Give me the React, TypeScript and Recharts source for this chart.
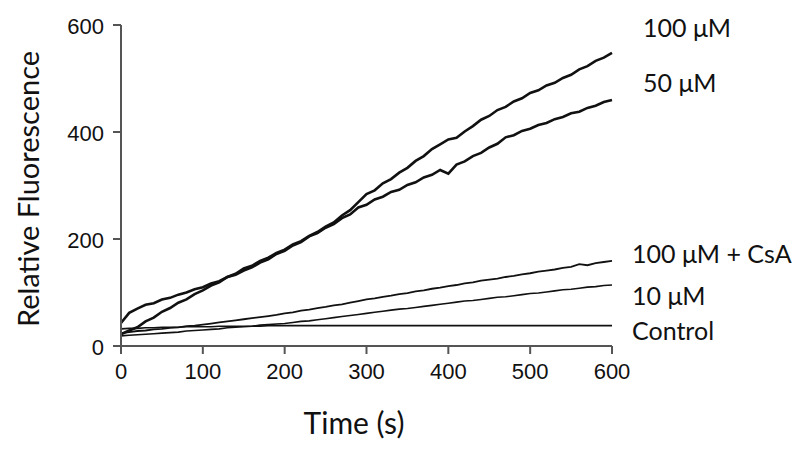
import { Line, LineChart, XAxis, YAxis } from "recharts";

const times = [
  0, 10, 20, 30, 40, 50, 60, 70, 80, 90, 100, 110, 120, 130, 140, 150, 160, 170, 180, 190, 200,
  210, 220, 230, 240, 250, 260, 270, 280, 290, 300, 310, 320, 330, 340, 350, 360, 370, 380, 390,
  400, 410, 420, 430, 440, 450, 460, 470, 480, 490, 500, 510, 520, 530, 540, 550, 560, 570, 580,
  590, 600
];

const uM100 = [
  22, 29, 35, 46, 53, 64, 71, 81, 87, 97, 104, 113, 119, 129, 135, 145, 150, 159, 165, 174, 180,
  190, 196, 206, 213, 223, 231, 244, 254, 269, 284, 291, 304, 312, 324, 333, 346, 355, 368, 377,
  386, 389, 401, 411, 423, 430, 441, 447, 457, 463, 473, 478, 487, 492, 501, 507, 517, 523, 533,
  539, 548
];

const uM50 = [
  43, 62, 70, 77, 80, 87, 90, 96, 100, 106, 110, 117, 121, 129, 133, 141, 147, 156, 162, 172, 178,
  188, 194, 205, 211, 221, 228, 239, 246, 259, 264, 274, 279, 288, 292, 301, 306, 315, 320, 329,
  322, 339, 345, 355, 361, 371, 378, 390, 394, 402, 406, 413, 417, 424, 428, 435, 438, 445, 449,
  456, 460
];

const uM100CsA = [
  24, 26, 28, 29, 31, 32, 34, 35, 37, 38, 40, 42, 44, 46, 48, 50, 52, 54, 56, 58, 61, 63, 66, 68,
  71, 73, 76, 78, 81, 84, 87, 89, 92, 94, 97, 99, 102, 104, 107, 109, 112, 114, 117, 119, 122,
  124, 126, 129, 131, 134, 136, 139, 141, 143, 146, 148, 153, 151, 155, 157, 159
];

const uM10 = [
  19, 20, 21, 22, 23, 24, 25, 26, 28, 29, 30, 31, 32, 34, 35, 36, 37, 39, 40, 41, 42, 44, 46, 47,
  49, 51, 53, 55, 57, 59, 61, 63, 65, 67, 69, 70, 72, 74, 76, 78, 80, 82, 84, 85, 87, 89, 91, 92,
  94, 96, 98, 99, 101, 103, 105, 106, 108, 110, 111, 113, 114
];

const control = [
  32, 33, 33, 34, 34, 35, 35, 35, 36, 36, 36, 36, 37, 37, 37, 37, 37, 37, 38, 38, 38, 38, 38, 38,
  38, 38, 38, 38, 38, 38, 38, 38, 38, 38, 38, 38, 38, 38, 38, 38, 38, 38, 38, 38, 38, 38, 38, 38,
  38, 38, 38, 38, 38, 38, 38, 38, 38, 38, 38, 38, 38
];

const xTicks = [0, 100, 200, 300, 400, 500, 600];
const yTicks = [0, 200, 400, 600];

const seriesLabels = [
  { text: "100 μM", left: 643, top: 27 },
  { text: "50 μM", left: 643, top: 82 },
  { text: "100 μM + CsA", left: 632, top: 253 },
  { text: "10 μM", left: 632, top: 295 },
  { text: "Control", left: 632, top: 330 }
];

const rows = times.map((t, i) => ({
  t,
  uM100: uM100[i],
  uM50: uM50[i],
  uM100CsA: uM100CsA[i],
  uM10: uM10[i],
  control: control[i]
}));

const INK = "#111";
const AXIS = "#555";
const LABEL_FONT = "Lato, 'Open Sans', sans-serif";
const TICK_FONT = "'Liberation Sans', Arial, sans-serif";

type TickProps = { x?: number; y?: number; payload?: { value: number } };

function XTick({ x = 0, y = 0, payload }: TickProps) {
  return (
    <text x={x} y={y + 25} textAnchor="middle" fontSize={22} fontFamily={TICK_FONT} fill={INK}>
      {payload?.value}
    </text>
  );
}

function YTick({ x = 0, y = 0, payload }: TickProps) {
  return (
    <text x={x} y={y + 8.5} textAnchor="end" fontSize={22} fontFamily={TICK_FONT} fill={INK}>
      {payload?.value}
    </text>
  );
}

export default function App() {
  return (
    <div style={{ position: "absolute", left: 0, top: 0, width: 800, height: 454, background: "#fff" }}>
      <LineChart
        width={800}
        height={454}
        data={rows}
        margin={{ top: 25, right: 188, bottom: 48, left: 0 }}
      >
        <XAxis
          dataKey="t"
          type="number"
          domain={[0, 600]}
          ticks={xTicks}
          height={60}
          tickSize={8}
          tickMargin={0}
          tick={<XTick />}
          stroke={AXIS}
          strokeWidth={2}
        />
        <YAxis
          type="number"
          domain={[0, 600]}
          ticks={yTicks}
          width={121}
          tickSize={8}
          tickMargin={9}
          tick={<YTick />}
          stroke={AXIS}
          strokeWidth={2}
        />
        <Line dataKey="control" stroke={INK} strokeWidth={1.6} dot={false} isAnimationActive={false} />
        <Line dataKey="uM10" stroke={INK} strokeWidth={1.6} dot={false} isAnimationActive={false} />
        <Line dataKey="uM100CsA" stroke={INK} strokeWidth={1.8} dot={false} isAnimationActive={false} />
        <Line dataKey="uM50" stroke={INK} strokeWidth={2.6} dot={false} isAnimationActive={false} />
        <Line dataKey="uM100" stroke={INK} strokeWidth={2.6} dot={false} isAnimationActive={false} />
      </LineChart>
      <div
        style={{
          position: "absolute",
          left: 27,
          top: 189,
          transform: "translate(-50%, -50%) rotate(-90deg)",
          whiteSpace: "nowrap",
          fontFamily: LABEL_FONT,
          fontSize: 29,
          color: INK
        }}
      >
        Relative Fluorescence
      </div>
      <div
        style={{
          position: "absolute",
          left: 354,
          top: 422,
          transform: "translate(-50%, -50%)",
          whiteSpace: "nowrap",
          fontFamily: LABEL_FONT,
          fontSize: 30,
          color: INK
        }}
      >
        Time (s)
      </div>
      {seriesLabels.map((s) => (
        <div
          key={s.text}
          style={{
            position: "absolute",
            left: s.left,
            top: s.top,
            transform: "translateY(-50%)",
            whiteSpace: "nowrap",
            fontFamily: LABEL_FONT,
            fontSize: 25,
            color: INK
          }}
        >
          {s.text}
        </div>
      ))}
    </div>
  );
}
